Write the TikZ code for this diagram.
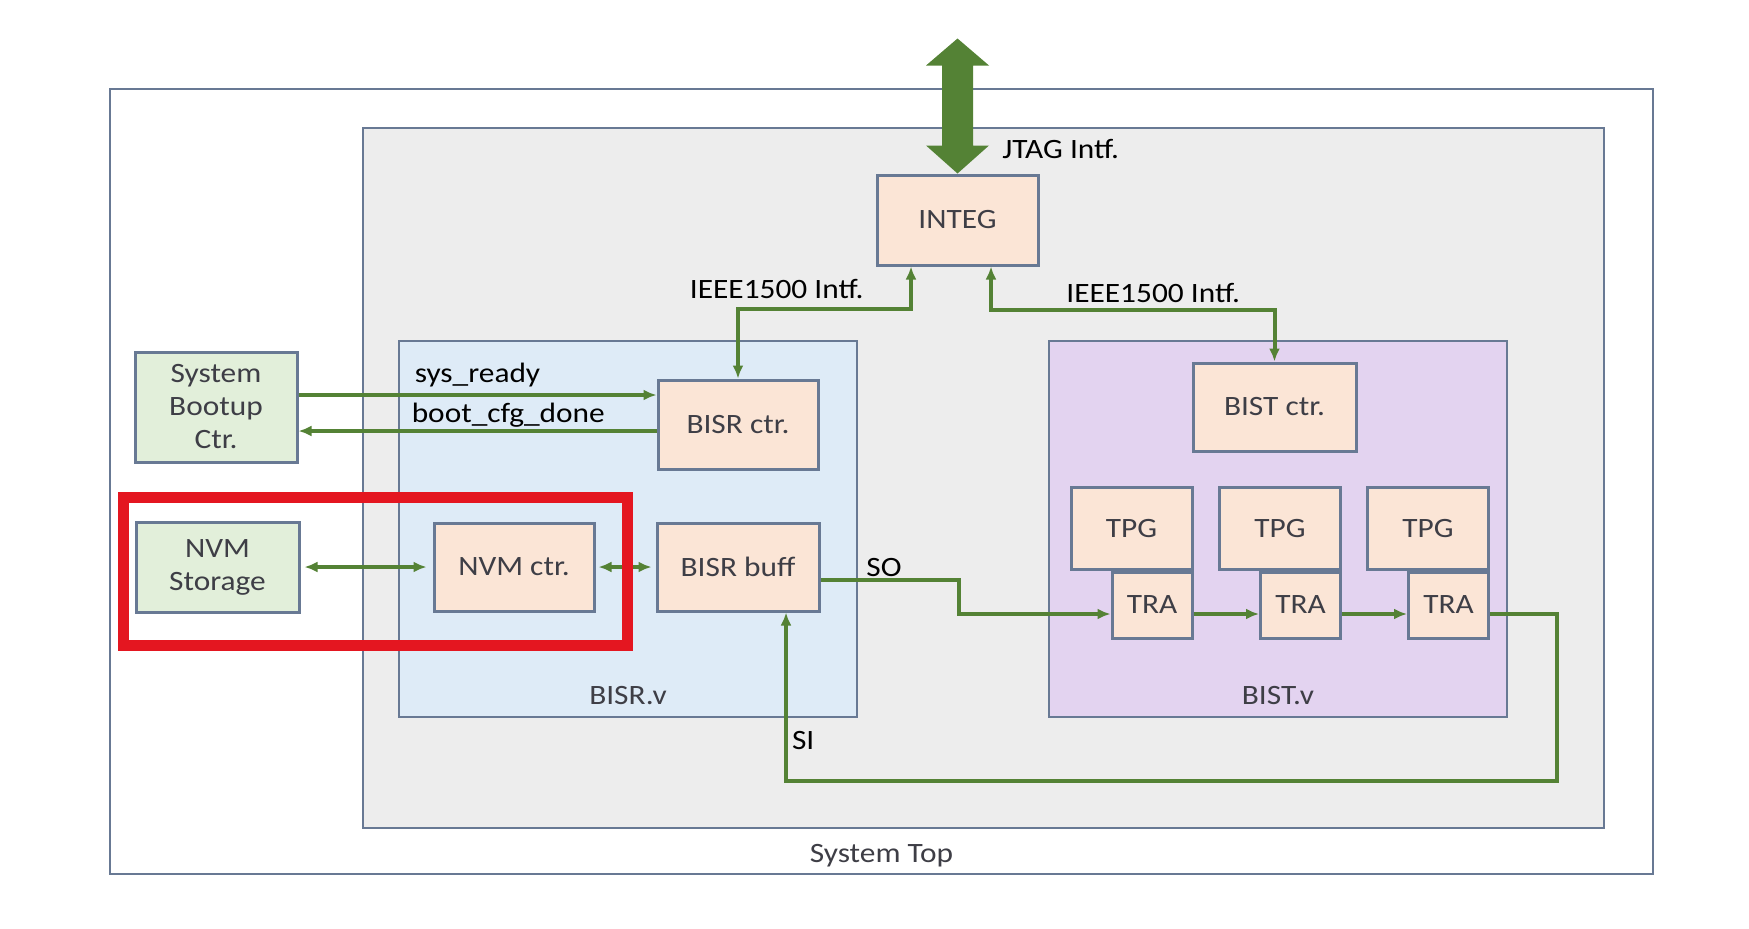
\documentclass[tikz,border=0pt]{standalone}
\usepackage{fontspec}
\setmainfont{Carlito}[FakeStretch=1.12]
\usepackage{tikz}
\usetikzlibrary{arrows.meta,positioning,calc}
\definecolor{frameline}{RGB}{104,121,148}
\definecolor{peach}{RGB}{251,229,214}
\definecolor{mint}{RGB}{226,239,218}
\definecolor{chipgray}{RGB}{237,237,237}
\definecolor{bisrblue}{RGB}{222,235,247}
\definecolor{bistlilac}{RGB}{227,211,240}
\definecolor{wire}{RGB}{84,130,53}
\definecolor{hilite}{RGB}{228,22,32}
\definecolor{boxtext}{RGB}{62,62,70}

\begin{document}
\begin{tikzpicture}[
  x=0.5pt, y=-0.5pt,
  box/.style={draw=frameline, line width=1.5pt, inner sep=0pt, align=center,
    text=boxtext, font=\fontsize{14}{16.5}\selectfont},
  ctrl/.style={box, fill=peach},
  ext/.style={box, fill=mint},
  region/.style={draw=frameline, line width=1.4pt, inner sep=0pt},
  regionname/.style={anchor=base, inner sep=0pt, text=boxtext,
    font=\fontsize{14}{16}\selectfont},
  link/.style={draw=wire, line width=2pt, -{Latex[length=6.5pt,width=5.5pt]}},
  both/.style={link, {Latex[length=6.5pt,width=5.5pt]}-{Latex[length=6.5pt,width=5.5pt]}},
  sig/.style={font=\fontsize{14}{16}\selectfont, text=black, inner sep=1pt}
]
\useasboundingbox (0,0) rectangle (1749,928);

% Containers.
\node[region, fill=white, minimum width=771.5pt, minimum height=392.5pt] (systop) at (881.5,481.5) {};
\node[region, fill=chipgray, minimum width=620.5pt, minimum height=350pt] (chip) at (983.5,478) {};
\node[region, fill=bisrblue, minimum width=229pt, minimum height=188pt] (bisrv) at (628,529) {};
\node[region, fill=bistlilac, minimum width=229pt, minimum height=188pt] (bistv) at (1278,529) {};

\node[regionname] (systopname) at ([yshift=6.5pt]systop.south) {System Top};
\node[regionname] (bisrvname) at ([yshift=7pt]bisrv.south) {BISR.v};
\node[regionname] (bistvname) at ([yshift=7pt]bistv.south) {BIST.v};

% Outside the chip.
\node[ext, minimum width=81pt, minimum height=55pt] (bootctr) at (216,407) {System\\Bootup\\Ctr.};
\node[ext, minimum width=81.5pt, minimum height=45pt] (nvmsto) at (217.5,567) {NVM\\Storage};

% Blocks.
\node[ctrl, minimum width=80.5pt, minimum height=45pt] (integ) at (957.5,220) {INTEG};
\node[ctrl, minimum width=80pt, minimum height=44.5pt] (bisrctr) at (738,424.5) {BISR ctr.};
\node[ctrl, minimum width=81pt, minimum height=44pt] (bisrbuf) at (738,567) {BISR buff};
\node[ctrl, minimum width=80pt, minimum height=44pt] (nvmctr) at (514,567) {NVM ctr.};
\node[ctrl, minimum width=81.5pt, minimum height=44pt] (bistctr) at (1274.5,407) {BIST ctr.};

% Pattern generators with their analysers.
\node[ctrl, minimum width=60.5pt, minimum height=41pt] (tpg1) at (1131.5,528) {TPG};
\node[ctrl, minimum width=60.5pt, minimum height=41pt] (tpg2) at (1280,528) {TPG};
\node[ctrl, minimum width=60.5pt, minimum height=41pt] (tpg3) at (1428,528) {TPG};
\node[ctrl, minimum width=40pt, minimum height=33pt, anchor=north east] (tra1) at (tpg1.south east) {TRA};
\node[ctrl, minimum width=40pt, minimum height=33pt, anchor=north east] (tra2) at (tpg2.south east) {TRA};
\node[ctrl, minimum width=40pt, minimum height=33pt, anchor=north east] (tra3) at (tpg3.south east) {TRA};

% JTAG port.
\fill[wire] (integ.north) -- ++(31.5,-28) -- ++(-16,0) -- ++(0,-80) -- ++(16,0)
  -- ++(-31.5,-27) -- ++(-31.5,27) -- ++(16,0) -- ++(0,80) -- ++(-16,0) -- cycle;
\node[sig, anchor=base west] (jtaglbl) at (1000,158) {JTAG Intf.};

% IEEE1500 links.
\draw[both] ($(integ.south)+(-46.5,0)$) -- ++(0,42) -| (bisrctr.north);
\draw[both] ($(integ.south)+(33.5,0)$) -- ++(0,43) -| (bistctr.north);
\node[sig, anchor=base east] (ieeeleft) at (866,298) {IEEE1500 Intf.};
\node[sig, anchor=base west] (ieeeright) at (1064,302) {IEEE1500 Intf.};

% Boot handshake.
\coordinate (rdy) at ([yshift=6pt]bootctr.east);
\draw[link] (rdy) -- node[sig, above=2pt] (rdylbl) {sys\_ready} (rdy -| bisrctr.west);
\coordinate (done) at ([yshift=-3.25pt]bisrctr.west);
\draw[link] (done) -- node[sig, above, pos=0.414] (donelbl) {boot\_cfg\_done} (done -| bootctr.east);

% NVM path.
\draw[both, shorten <=2pt, shorten >=3pt] (nvmsto) -- (nvmctr);
\draw[both, shorten <=1.5pt, shorten >=2pt] (nvmctr) -- (bisrbuf);

% Scan chain.
\coordinate (so) at ([yshift=-6.5pt]bisrbuf.east);
\draw[link] (so) -- node[sig, above, pos=0.46, inner sep=0.5pt] (solbl) {SO} ++(138,0)
  |- ([yshift=-4.5pt]tra1.west);
\draw[link] ([yshift=-4.5pt]tra1.east) -- ([yshift=-4.5pt]tra2.west);
\draw[link] ([yshift=-4.5pt]tra2.east) -- ([yshift=-4.5pt]tra3.west);
\draw[link] ([yshift=-4.5pt]tra3.east) -- ++(67,0) -- ++(0,167)
  -| node[sig, right, pos=0.62, inner sep=2pt] (silbl) {SI} ([xshift=24pt]bisrbuf.south);

% Highlight.
\node[draw=hilite, line width=5.5pt, minimum width=252pt, minimum height=74pt] (focus) at (375,571) {};

\end{tikzpicture}
\end{document}
